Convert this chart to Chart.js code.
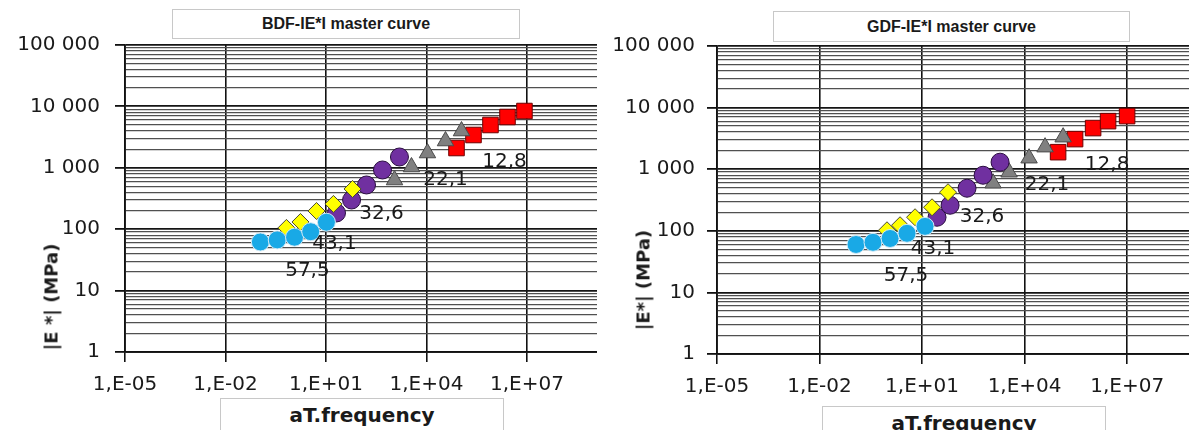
<!DOCTYPE html>
<html>
<head>
<meta charset="utf-8">
<script src="https://cdn.jsdelivr.net/npm/chart.js@4.4.1/dist/chart.umd.min.js"></script>
<style>
  body { margin: 0; background: #fff; }
  #wrap { position: relative; width: 1189px; height: 430px; overflow: hidden; background: #fff; }
  .cv { position: absolute; top: 0; }
  .box {
    position: absolute; box-sizing: border-box; background: #fff;
    border: 1.5px solid #c8c8c8;
    display: flex; align-items: center; justify-content: center;
    color: #1a1a1a; white-space: nowrap;
  }
  .title { font-family: "Liberation Sans Narrow", "Liberation Sans", sans-serif; font-size: 16px; font-weight: bold; }
  .xtitle { font-family: "DejaVu Sans", sans-serif; font-weight: bold; font-size: 20px; }
  .ytitle {
    position: absolute; font-family: "DejaVu Sans", sans-serif; font-weight: bold; font-size: 18px;
    color: #1a1a1a; white-space: nowrap; transform: translate(-50%, -50%) rotate(-90deg);
  }
</style>
</head>
<body>
<div id="wrap">
  <canvas id="bdfChart" class="cv" width="597" height="430" style="left:0;width:597px;height:430px"></canvas>
  <canvas id="gdfChart" class="cv" width="592" height="430" style="left:597px;width:592px;height:430px"></canvas>

  <div class="box title" style="left:172px;top:9px;width:348px;height:30px">BDF-IE*I master curve</div>
  <div class="box title" style="left:773px;top:11px;width:357px;height:31px">GDF-IE*I master curve</div>

  <div class="box xtitle" style="left:220px;top:398px;width:284px;height:34px">aT.frequency</div>
  <div class="box xtitle" style="left:822px;top:406px;width:284px;height:34px">aT.frequency</div>

  <div class="ytitle" style="left:51px;top:297px">|E *| (MPa)</div>
  <div class="ytitle" style="left:643px;top:280px">|E*| (MPa)</div>
</div>

<script>
// temperatures (°C) used as series labels
const temps = ['57,5', '43,1', '32,6', '22,1', '12,8'];

// axis ticks
const xTickValues = [1e-5, 1e-2, 1e1, 1e4, 1e7];
const xTickLabels = ['1,E-05', '1,E-02', '1,E+01', '1,E+04', '1,E+07'];
const yTickLabels = ['1', '10', '100', '1 000', '10 000', '100 000'];

// BDF master curve: reduced frequency (aT.f) and |E*| (MPa)
const bdfFreq575 = [0.11, 0.35, 1.15, 3.5, 10.3];
const bdfMod575  = [62, 67, 74, 91, 130];
const bdfFreq431 = [0.66, 1.73, 5.2, 16.7, 62];
const bdfMod431  = [105, 131, 198, 258, 452];
const bdfFreq326 = [20.6, 58, 162, 486, 1560];
const bdfMod326  = [184, 299, 525, 921, 1500];
const bdfFreq221 = [1110, 3560, 10700, 36900, 111000];
const bdfMod221  = [632, 1030, 1740, 2730, 3970];
const bdfFreq128 = [78700, 253000, 813000, 2620000, 8400000];
const bdfMod128  = [2100, 3420, 4980, 6720, 8410];

// GDF master curve
const gdfFreq575 = [0.117, 0.367, 1.16, 3.63, 12.2];
const gdfMod575  = [60, 65, 75, 91, 118];
const gdfFreq431 = [0.94, 2.27, 6.24, 19.6, 57.5];
const gdfMod431  = [102, 123, 166, 241, 423];
const gdfFreq326 = [27.4, 66, 207, 609, 1915];
const gdfMod326  = [166, 260, 491, 798, 1300];
const gdfFreq221 = [1194, 3513, 13500, 39700, 134000];
const gdfMod221  = [592, 893, 1510, 2280, 3310];
const gdfFreq128 = [95500, 300000, 1010000, 2770000, 9980000];
const gdfMod128  = [1890, 3080, 4650, 6030, 7280];

// marker look for each temperature
const markerStyles = [
  { pointStyle: 'circle',   radius: 9,    bg: '#19A9E6', border: '#cfe9f6' },
  { pointStyle: 'rectRot',  radius: 8.5,  bg: '#FFFF00', border: '#4a4a30' },
  { pointStyle: 'circle',   radius: 9,    bg: '#7030A0', border: '#2a0d40' },
  { pointStyle: 'triangle', radius: 9.5,  bg: '#808080', border: '#4a4a4a' },
  { pointStyle: 'rect',     radius: 11,   bg: '#FF0000', border: '#6e0000' }
];

const isDecade = v => Math.abs(Math.log10(v) - Math.round(Math.log10(v))) < 1e-9;

// draw each temperature next to a point of the curve (dataset, point index, pixel offset)
const tempLabels = {
  id: 'tempLabels',
  afterDatasetsDraw(chart, args, opts) {
    const ctx = chart.ctx;
    ctx.save();
    ctx.font = '20px "DejaVu Sans", sans-serif';
    ctx.fillStyle = '#1a1a1a';
    ctx.textAlign = 'center';
    ctx.textBaseline = 'middle';
    chart.data.datasets.forEach((ds, i) => {
      const a = opts.anchor[i];
      const pt = chart.getDatasetMeta(a[0]).data[a[1]];
      ctx.fillText(ds.label, pt.x + opts.offset[i][0], pt.y + opts.offset[i][1]);
    });
    ctx.restore();
  }
};

function buildDatasets(freqs, mods) {
  return temps.map((t, i) => ({
    label: t,
    data: freqs[i].map((f, j) => ({ x: f, y: mods[i][j] })),
    pointStyle: markerStyles[i].pointStyle,
    pointRadius: markerStyles[i].radius,
    pointBackgroundColor: markerStyles[i].bg,
    pointBorderColor: markerStyles[i].border,
    pointBorderWidth: 1,
    showLine: false
  }));
}

function makeChart(id, datasets, lay) {
  const ctx = document.getElementById(id).getContext('2d');
  return new Chart(ctx, {
    type: 'scatter',
    data: { datasets: datasets },
    plugins: [tempLabels],
    options: {
      responsive: false,
      animation: false,
      layout: { autoPadding: false, padding: { top: lay.top, left: 0, right: 0, bottom: 0 } },
      plugins: {
        legend: { display: false },
        tooltip: { enabled: false },
        tempLabels: {
          anchor: [[0, 4], [0, 4], [2, 2], [3, 2], [4, 2]],
          offset: [[-19, 49], [8, 22], [15, 29], [18, 27], [14, 37]]
        }
      },
      scales: {
        x: {
          type: 'logarithmic',
          bounds: 'data',
          min: 1e-5,
          max: lay.xMax,
          afterBuildTicks: s => { s.ticks = xTickValues.map(v => ({ value: v })); },
          afterFit: s => { s.height = lay.xHeight; s.paddingLeft = 0; s.paddingRight = 0; },
          ticks: {
            autoSkip: false, maxRotation: 0, padding: 11,
            color: '#1a1a1a',
            font: { family: 'DejaVu Sans', size: 20 },
            callback: (v, i) => xTickLabels[i]
          },
          grid: { color: '#111', lineWidth: 1.6, tickLength: 10, tickColor: '#111' },
          border: { color: '#111', width: 1.8 }
        },
        y: {
          type: 'logarithmic',
          min: 1,
          max: 100000,
          afterBuildTicks: s => {
            const t = [];
            for (let e = 0; e < 5; e++) {
              for (let m = 1; m < 10; m++) t.push({ value: m * Math.pow(10, e) });
            }
            t.push({ value: 100000 });
            s.ticks = t;
          },
          afterFit: s => { s.width = lay.yWidth; },
          ticks: {
            autoSkip: false, padding: lay.yPad,
            color: '#1a1a1a',
            font: { family: 'DejaVu Sans', size: 20 },
            callback: v => isDecade(v) ? yTickLabels[Math.round(Math.log10(v))] : ''
          },
          grid: {
            color: c => isDecade(c.tick.value) ? '#151515' : '#505050',
            lineWidth: c => isDecade(c.tick.value) ? 1.8 : 1.3,
            tickLength: 10,
            tickColor: c => isDecade(c.tick.value) ? '#111' : 'rgba(0,0,0,0)'
          },
          border: { color: '#111', width: 1.8 }
        }
      }
    }
  });
}

makeChart('bdfChart',
  buildDatasets([bdfFreq575, bdfFreq431, bdfFreq326, bdfFreq221, bdfFreq128],
                [bdfMod575, bdfMod431, bdfMod326, bdfMod221, bdfMod128]),
  { top: 45, yWidth: 125, xHeight: 78, yPad: 15, xMax: Math.pow(10, 9.09) });

makeChart('gdfChart',
  buildDatasets([gdfFreq575, gdfFreq431, gdfFreq326, gdfFreq221, gdfFreq128],
                [gdfMod575, gdfMod431, gdfMod326, gdfMod221, gdfMod128]),
  { top: 46, yWidth: 120, xHeight: 76, yPad: 12, xMax: Math.pow(10, 8.81) });
</script>
</body>
</html>
